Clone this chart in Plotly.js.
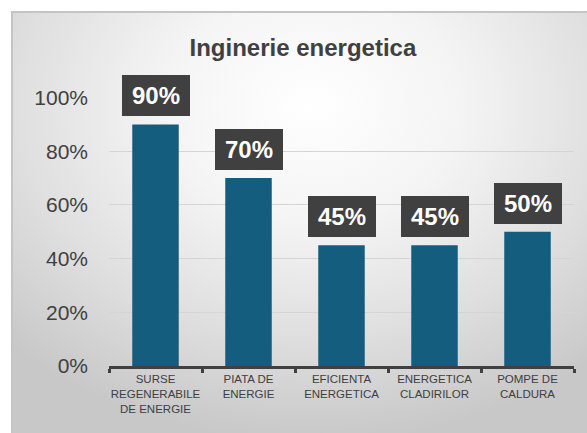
<!DOCTYPE html>
<html>
<head>
<meta charset="utf-8">
<script src="https://cdn.plot.ly/plotly-3.0.1.min.js"></script>
<style>
  html, body { margin:0; padding:0; width:587px; height:433px; background:#ffffff; overflow:hidden; }
  #bg { position:absolute; left:11px; top:11px; width:576px; height:422px;
        border-top:2px solid #c4c4c4; border-left:2px solid #c4c4c4; box-sizing:border-box;
        background: radial-gradient(ellipse 75% 80% at 52% 22%, #ffffff 0%, #f4f4f4 35%, #dedede 70%, #c8c8c8 100%); }
  #chart { position:absolute; left:0; top:0; width:587px; height:433px; }
</style>
</head>
<body>
<div id="bg"></div>
<div id="chart"></div>
<script>
const categories = [
  "SURSE<br>REGENERABILE<br>DE ENERGIE",
  "PIATA DE<br>ENERGIE",
  "EFICIENTA<br>ENERGETICA",
  "ENERGETICA<br>CLADIRILOR",
  "POMPE DE<br>CALDURA"
];
const values = [0.90, 0.70, 0.45, 0.45, 0.50];
const valueLabels = ["90%", "70%", "45%", "45%", "50%"];
const yTickVals = [0, 0.2, 0.4, 0.6, 0.8, 1.0];
const yTickText = ["0%", "20%", "40%", "60%", "80%", "100%"];
const chartTitle = "Inginerie energetica";

const trace = {
  type: "bar",
  x: categories,
  y: values,
  marker: { color: "#155d7e" },
  hoverinfo: "skip"
};

const annotations = categories.map((c, i) => ({
  x: c, y: values[i], xref: "x", yref: "y",
  text: "<b>" + valueLabels[i] + "</b>",
  showarrow: false,
  yanchor: "bottom",
  yshift: 8,
  font: { family: "Liberation Sans, Arial, sans-serif", size: 24, color: "#ffffff" },
  bgcolor: "#404040",
  width: 64, height: 37, borderpad: 2, borderwidth: 0
}));

const layout = {
  width: 587, height: 433,
  paper_bgcolor: "rgba(0,0,0,0)",
  plot_bgcolor: "rgba(0,0,0,0)",
  margin: { l: 109, r: 13, t: 97, b: 67 },
  showlegend: false,
  bargap: 0.5,
  title: {
    text: "<b>" + chartTitle + "</b>",
    font: { family: "Liberation Sans, Arial, sans-serif", size: 24, color: "#404040" },
    x: 0.516, xanchor: "center", y: 0.889, yanchor: "middle"
  },
  xaxis: {
    type: "category",
    tickangle: 0,
    automargin: false,
    showline: true, linecolor: "#404040", linewidth: 3,
    ticks: "outside", tickson: "boundaries", ticklen: 4, tickwidth: 3, tickcolor: "#404040",
    tickfont: { family: "Liberation Sans, Arial, sans-serif", size: 11.5, color: "#404040" },
    showgrid: false, zeroline: false, fixedrange: true
  },
  yaxis: {
    range: [0, 1.002],
    tickvals: yTickVals, ticktext: yTickText,
    showline: false, ticks: "", zeroline: false,
    showgrid: true, gridcolor: "#d5d5d5", gridwidth: 1,
    ticklabelstandoff: 20,
    tickfont: { family: "Liberation Sans, Arial, sans-serif", size: 21, color: "#404040" },
    fixedrange: true
  },
  annotations: annotations
};

Plotly.newPlot("chart", [trace], layout, { displayModeBar: false, staticPlot: true });
</script>
</body>
</html>
